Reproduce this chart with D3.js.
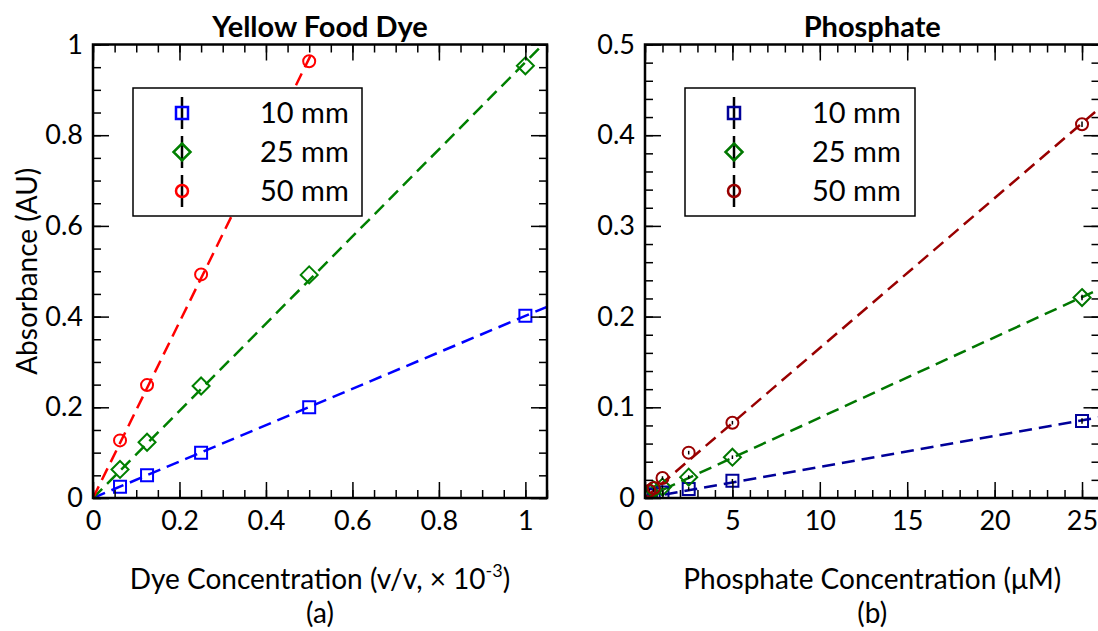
<!DOCTYPE html>
<html>
<head>
<meta charset="utf-8">
<script src="https://cdn.jsdelivr.net/npm/d3@7"></script>
<style>
  body { margin: 0; background: #fff; }
  svg { font-family: Lato, "Open Sans", sans-serif; }
</style>
</head>
<body>
<svg id="chart" width="1098" height="631"></svg>
<script>
// ---- data ----
const seriesNames = ["10 mm", "25 mm", "50 mm"];
const markerShapes = ["square", "diamond", "circle"];

// (a) yellow food dye, concentration in v/v x 10^-3
const dyeConc = [0.0625, 0.125, 0.25, 0.5, 1];
const dye10 = [0.025, 0.05, 0.1, 0.2, 0.402];
const dye25 = [0.063, 0.123, 0.247, 0.492, 0.953];
const dye50 = [0.127, 0.249, 0.493, 0.963, null];
const dyeFitEnd = [1.05, 1.05, 0.51];
const dyeColors = ["#0000ff", "#008000", "#ff0000"];

// (b) phosphate, concentration in uM
const phosConc = [0.25, 0.5, 1, 2.5, 5, 25];
const phos10 = [0.003, 0.004, 0.006, 0.01, 0.019, 0.085];
const phos25 = [0.006, 0.009, 0.012, 0.023, 0.045, 0.221];
const phos50 = [0.008, 0.011, 0.022, 0.05, 0.083, 0.412];
const phosErr = [0.002, 0.002, 0.002, 0.002, 0.002, 0.003];
const phosFitEnd = [26, 26, 26];
const phosColors = ["#000099", "#007700", "#990000"];

const svg = d3.select("#chart");

function fitSlope(xs, ys) {
  let sxy = 0, sxx = 0;
  xs.forEach((x, i) => { if (ys[i] != null) { sxy += x * ys[i]; sxx += x * x; } });
  return sxy / sxx;
}

function drawPanel(opt) {
  const x = d3.scaleLinear().domain(opt.xDomain).range([opt.left, opt.right]);
  const y = d3.scaleLinear().domain(opt.yDomain).range([opt.bottom, opt.top]);
  const g = svg.append("g");

  const clipId = "clip" + opt.id;
  svg.append("clipPath").attr("id", clipId).append("rect")
    .attr("x", opt.left).attr("y", opt.top)
    .attr("width", opt.right - opt.left).attr("height", opt.bottom - opt.top);

  // fitted dashed lines
  const plot = g.append("g").attr("clip-path", `url(#${clipId})`);
  opt.series.forEach((ys, i) => {
    const m = fitSlope(opt.xs, ys);
    plot.append("line")
      .attr("x1", x(0)).attr("y1", y(0))
      .attr("x2", x(opt.fitEnd[i])).attr("y2", y(m * opt.fitEnd[i]))
      .attr("stroke", opt.colors[i]).attr("stroke-width", 2.5)
      .attr("stroke-dasharray", "13,7");
  });

  // error bars and markers
  opt.series.forEach((ys, i) => {
    const pts = opt.xs.map((xv, j) => ({ x: xv, y: ys[j], e: opt.err ? opt.err[j] : 0 }))
      .filter(d => d.y != null);
    plot.selectAll(null).data(pts.filter(d => d.e > 0)).enter().append("line")
      .attr("x1", d => x(d.x)).attr("x2", d => x(d.x))
      .attr("y1", d => y(d.y - d.e)).attr("y2", d => y(d.y + d.e))
      .attr("stroke", "#000").attr("stroke-width", 1.5);
    plot.selectAll(null).data(pts).enter().append("path")
      .attr("transform", d => `translate(${x(d.x)},${y(d.y)})`)
      .attr("d", markerPath(markerShapes[i]))
      .attr("fill", "none").attr("stroke", opt.colors[i]).attr("stroke-width", 2);
  });

  // axes with inward ticks
  const axes = g.append("g");
  const addAxis = (axis, tx, ty) => {
    const a = axes.append("g").attr("transform", `translate(${tx},${ty})`).call(axis);
    a.select(".domain").remove();
    a.selectAll("line").attr("stroke", "#000").attr("stroke-width", 1.5);
    a.selectAll("text").attr("font-family", "Lato, 'Open Sans', sans-serif").attr("font-size", 27).attr("fill", "#000");
  };
  const fmt = opt.fmt;
  addAxis(d3.axisBottom(x).tickValues(opt.xMinor).tickSize(-8).tickFormat(""), 0, opt.bottom);
  addAxis(d3.axisBottom(x).tickValues(opt.xMajor).tickSize(-16).tickPadding(13).tickFormat(opt.xFmt), 0, opt.bottom);
  addAxis(d3.axisTop(x).tickValues(opt.xMinor).tickSize(-8).tickFormat(""), 0, opt.top);
  addAxis(d3.axisTop(x).tickValues(opt.xMajor).tickSize(-16).tickFormat(""), 0, opt.top);
  addAxis(d3.axisLeft(y).tickValues(opt.yMinor).tickSize(-8).tickFormat(""), opt.left, 0);
  addAxis(d3.axisLeft(y).tickValues(opt.yMajor).tickSize(-16).tickPadding(10).tickFormat(fmt), opt.left, 0);
  addAxis(d3.axisRight(y).tickValues(opt.yMinor).tickSize(-8).tickFormat(""), opt.right, 0);
  addAxis(d3.axisRight(y).tickValues(opt.yMajor).tickSize(-16).tickFormat(""), opt.right, 0);

  g.append("rect")
    .attr("x", opt.left).attr("y", opt.top)
    .attr("width", opt.right - opt.left).attr("height", opt.bottom - opt.top)
    .attr("fill", "none").attr("stroke", "#000").attr("stroke-width", 2.5);

  // legend
  const lg = g.append("g");
  lg.append("rect")
    .attr("x", opt.legend.x).attr("y", opt.legend.y)
    .attr("width", opt.legend.w).attr("height", opt.legend.h)
    .attr("fill", "#fff").attr("stroke", "#000").attr("stroke-width", 1.5);
  seriesNames.forEach((name, i) => {
    const cy = opt.legend.y + 25 + i * 39;
    const mx = opt.legend.x + 49;
    lg.append("line").attr("x1", mx).attr("x2", mx).attr("y1", cy - 16).attr("y2", cy + 16)
      .attr("stroke", "#000").attr("stroke-width", 2.5);
    lg.append("path").attr("transform", `translate(${mx},${cy})`)
      .attr("d", markerPath(markerShapes[i]))
      .attr("fill", "none").attr("stroke", opt.colors[i]).attr("stroke-width", 2.5);
    lg.append("text").attr("x", opt.legend.x + 127).attr("y", cy + 10)
      .attr("font-size", 29).attr("fill", "#000").text(name);
  });

  // titles and labels
  const cx = (opt.left + opt.right) / 2;
  g.append("text").attr("x", cx).attr("y", 37).attr("text-anchor", "middle")
    .attr("font-size", 29).attr("font-weight", "bold").text(opt.title);
  const xl = g.append("text").attr("x", cx).attr("y", 589).attr("text-anchor", "middle")
    .attr("font-size", 28);
  opt.xLabel(xl);
  g.append("text").attr("x", cx).attr("y", 623).attr("text-anchor", "middle")
    .attr("font-size", 28).text(opt.tag);
  if (opt.yLabel) {
    g.append("text").attr("transform", `translate(37,${(opt.top + opt.bottom) / 2}) rotate(-90)`)
      .attr("text-anchor", "middle").attr("font-size", 28).text(opt.yLabel);
  }
}

function markerPath(shape) {
  if (shape === "square") return "M-6,-6H6V6H-6Z";
  if (shape === "diamond") return "M0,-8.5L8.5,0L0,8.5L-8.5,0Z";
  return d3.arc()({ innerRadius: 0, outerRadius: 6, startAngle: 0, endAngle: 2 * Math.PI });
}

function ticksEvery(lo, hi, step) {
  return d3.range(Math.round((hi - lo) / step) + 1).map(k => +(lo + k * step).toFixed(6));
}

drawPanel({
  id: "a", left: 93, right: 547, top: 44.5, bottom: 498,
  xDomain: [0, 1.05], yDomain: [0, 1],
  xs: dyeConc, series: [dye10, dye25, dye50], colors: dyeColors, fitEnd: dyeFitEnd,
  xMajor: ticksEvery(0, 1, 0.2), xMinor: ticksEvery(0, 1.05, 0.05),
  yMajor: ticksEvery(0, 1, 0.2), yMinor: ticksEvery(0, 1, 0.05),
  xFmt: d => d === 0 || d === 1 ? d3.format("d")(d) : d3.format(".1f")(d),
  fmt: d => d === 0 || d === 1 ? d3.format("d")(d) : d3.format(".1f")(d),
  legend: { x: 133, y: 88, w: 229, h: 128 },
  title: "Yellow Food Dye", tag: "(a)", yLabel: "Absorbance (AU)",
  xLabel: t => {
    t.append("tspan").text("Dye Concentration (v/v, × 10");
    t.append("tspan").attr("font-size", 18).attr("dy", -12).text("-3");
    t.append("tspan").attr("dy", 12).text(")");
  }
});

drawPanel({
  id: "b", left: 645, right: 1099.5, top: 44.5, bottom: 498,
  xDomain: [0, 26], yDomain: [0, 0.5],
  xs: phosConc, series: [phos10, phos25, phos50], err: phosErr, colors: phosColors, fitEnd: phosFitEnd,
  xMajor: ticksEvery(0, 25, 5), xMinor: ticksEvery(0, 26, 1),
  yMajor: ticksEvery(0, 0.5, 0.1), yMinor: ticksEvery(0, 0.5, 0.02),
  xFmt: d3.format("d"),
  fmt: d => d === 0 ? "0" : d3.format(".1f")(d),
  legend: { x: 685, y: 88, w: 230, h: 128 },
  title: "Phosphate", tag: "(b)",
  xLabel: t => t.text("Phosphate Concentration (μM)")
});
</script>
</body>
</html>
